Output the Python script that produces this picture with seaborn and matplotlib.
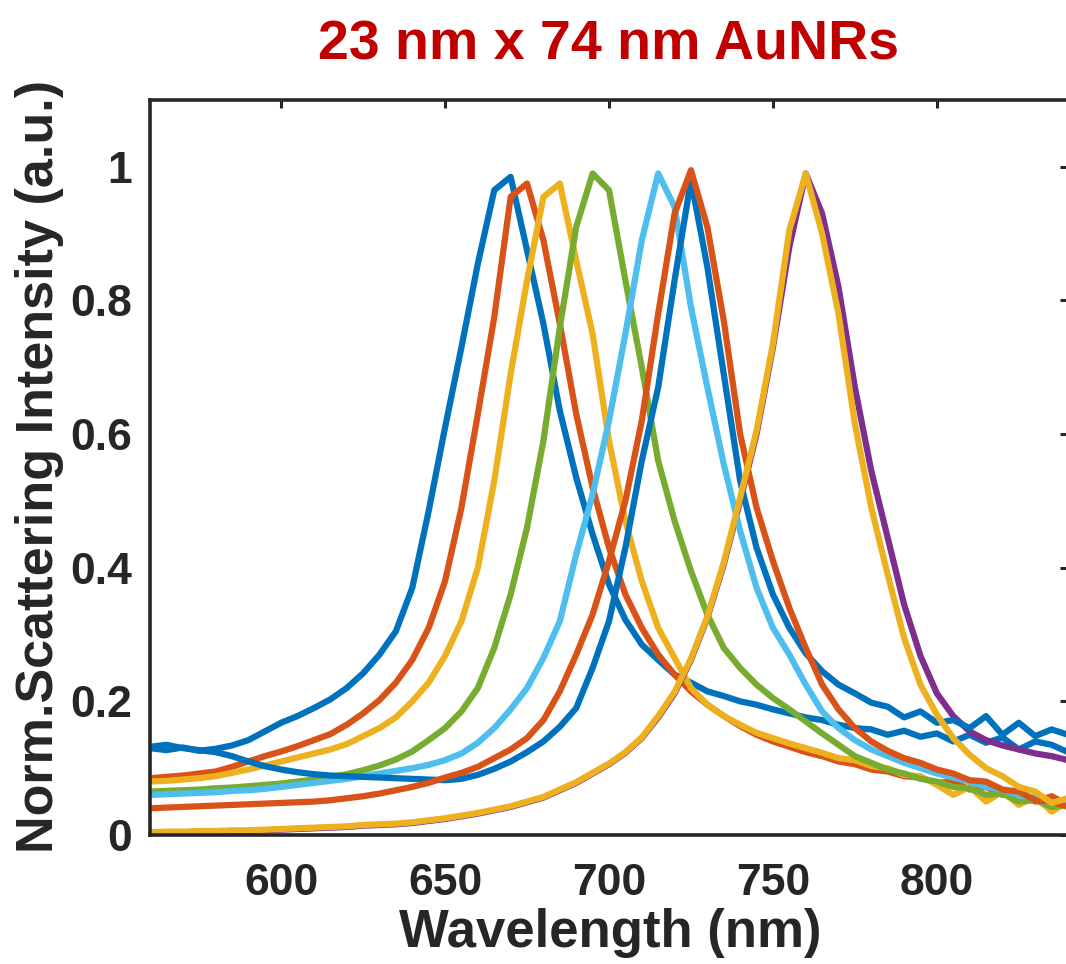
import pandas as pd
import seaborn as sns
import matplotlib.pyplot as plt

# ==========================================
# 1. data (5 nm steps)
# ==========================================
wavelength = list(range(560, 845, 5))

blue_a = [.130, .127, .131, .126, .129, .134, .142, .155, .168, .178, .190, .203, .220, .242, .270, .305,
          .370, .485, .610, .730, .855, .965, .985, .875, .765, .635, .535, .450, .375, .322, .285, .262,
          .240, .228, .215, .208, .200, .195, .188, .182, .176, .172, .165, .160, .158, .150, .156, .147,
          .152, .140, .150, .138, .146, .128, .140, .135, .124]
orange_a = [.085, .087, .089, .092, .095, .102, .110, .118, .125, .133, .142, .151, .165, .182, .202, .228,
            .262, .310, .380, .490, .630, .775, .955, .975, .890, .765, .630, .520, .430, .360, .310, .270,
            .240, .215, .195, .178, .163, .150, .140, .132, .124, .118, .110, .106, .098, .095, .088, .086,
            .078, .080, .068, .072, .060, .066, .050, .058, .045]
yellow_a = [.080, .081, .083, .085, .088, .093, .098, .104, .110, .116, .122, .128, .136, .148, .160, .176,
            .200, .228, .268, .320, .400, .530, .690, .830, .955, .975, .860, .750, .590, .470, .380, .310,
            .265, .220, .195, .178, .165, .153, .145, .137, .130, .123, .115, .112, .103, .100, .090, .088,
            .075, .060, .072, .050, .065, .045, .058, .035, .050]
purple = [.003, .004, .004, .005, .005, .006, .006, .007, .008, .009, .010, .011, .012, .014, .015, .016,
          .018, .021, .024, .028, .032, .037, .042, .049, .056, .067, .078, .092, .106, .123, .145, .176,
          .212, .262, .325, .405, .500, .600, .730, .880, .990, .930, .820, .670, .545, .445, .345, .268,
          .212, .178, .155, .142, .134, .128, .122, .118, .112]
green = [.065, .066, .067, .068, .070, .071, .073, .075, .077, .080, .083, .087, .091, .097, .104, .113,
         .125, .142, .160, .185, .220, .280, .360, .460, .590, .760, .910, .990, .965, .830, .700, .560,
         .470, .395, .330, .280, .250, .225, .205, .188, .170, .152, .135, .118, .108, .098, .092, .084,
         .080, .072, .070, .060, .062, .050, .052, .042, .045]
light_blue = [.060, .061, .062, .063, .064, .066, .067, .069, .072, .075, .078, .081, .084, .088, .092, .096,
              .100, .105, .112, .122, .138, .160, .188, .220, .265, .320, .420, .510, .620, .750, .890, .990,
              .940, .790, .670, .555, .455, .370, .310, .270, .225, .185, .160, .142, .128, .118, .108, .100,
              .092, .086, .080, .072, .068, .060, .055, .048, .050]
blue_b = [.132, .135, .130, .127, .124, .118, .110, .103, .098, .094, .091, .089, .088, .087, .086, .085,
          .084, .083, .082, .084, .090, .099, .110, .124, .140, .162, .190, .250, .320, .430, .560, .670,
          .830, .980, .850, .690, .530, .430, .360, .310, .272, .245, .225, .212, .198, .192, .176, .185,
          .168, .172, .160, .178, .150, .168, .148, .158, .150]
orange_b = [.040, .041, .042, .043, .044, .045, .046, .047, .048, .049, .050, .052, .055, .058, .062, .067,
            .072, .078, .086, .093, .102, .115, .128, .145, .172, .215, .270, .330, .410, .500, .620, .780,
            .930, .995, .910, .770, .600, .490, .410, .340, .280, .225, .188, .160, .140, .126, .115, .108,
            .098, .092, .082, .080, .068, .065, .052, .050, .042]
yellow_b = [.004, .005, .005, .006, .006, .007, .007, .008, .009, .010, .011, .012, .013, .015, .016, .017,
            .019, .022, .025, .029, .033, .038, .043, .050, .057, .068, .079, .093, .107, .124, .146, .178,
            .214, .264, .327, .408, .505, .605, .735, .905, .990, .900, .780, .615, .490, .390, .295, .225,
            .180, .145, .120, .100, .088, .072, .065, .048, .055]

series = {
    'blue_a': blue_a, 'orange_a': orange_a, 'yellow_a': yellow_a, 'purple': purple,
    'green': green, 'light_blue': light_blue, 'blue_b': blue_b, 'orange_b': orange_b,
    'yellow_b': yellow_b,
}
palette = {
    'blue_a': '#0072BD', 'orange_a': '#D95319', 'yellow_a': '#EDB120', 'purple': '#7E2F8E',
    'green': '#77AC30', 'light_blue': '#4DBEEE', 'blue_b': '#0072BD', 'orange_b': '#D95319',
    'yellow_b': '#EDB120',
}

df = pd.concat(
    [pd.DataFrame({'Wavelength': wavelength, 'Intensity': v, 'Series': k}) for k, v in series.items()],
    ignore_index=True,
)

# ==========================================
# 2. style
# ==========================================
sns.set_style("white")
plt.rcParams['font.family'] = ['Liberation Sans', 'DejaVu Sans']
plt.rcParams['font.weight'] = 'bold'
text_color = '#262626'

fig = plt.figure(figsize=(10.66, 9.64), dpi=100)
ax = fig.add_axes([150 / 1066, 1 - 835 / 964, 918 / 1066, 735 / 964])

# ==========================================
# 3. lines
# ==========================================
sns.lineplot(data=df, x='Wavelength', y='Intensity', hue='Series', hue_order=list(series),
             palette=palette, estimator=None, sort=False, linewidth=4.5, legend=False, ax=ax,
             solid_joinstyle='round', solid_capstyle='round')

# ==========================================
# 4. axes, ticks, text
# ==========================================
ax.set_xlim(560, 840)
ax.set_ylim(0, 1.1)
ax.set_xticks([600, 650, 700, 750, 800])
ax.set_yticks([0, 0.2, 0.4, 0.6, 0.8, 1])
ax.set_yticklabels(['0', '0.2', '0.4', '0.6', '0.8', '1'])

for side in ['left', 'right', 'top', 'bottom']:
    ax.spines[side].set_visible(True)
    ax.spines[side].set_linewidth(2.6)
    ax.spines[side].set_color(text_color)

ax.tick_params(axis='both', direction='in', length=6, width=2.2, color=text_color,
               top=True, right=True, labelsize=32, labelcolor=text_color)
ax.tick_params(axis='x', pad=20)
ax.tick_params(axis='y', pad=13)

ax.set_xlabel('Wavelength (nm)', fontsize=38, fontweight='bold', color=text_color)
ax.set_ylabel('Norm.Scattering Intensity (a.u.)', fontsize=37.5, fontweight='bold', color=text_color)
ax.xaxis.set_label_coords(0.501, -0.1)
ax.yaxis.set_label_coords(-0.094, 0.502)

ax.set_title('23 nm x 74 nm AuNRs', fontsize=40, fontweight='bold', color='#C00000', pad=29)

fig.savefig('out.png', dpi=100)
